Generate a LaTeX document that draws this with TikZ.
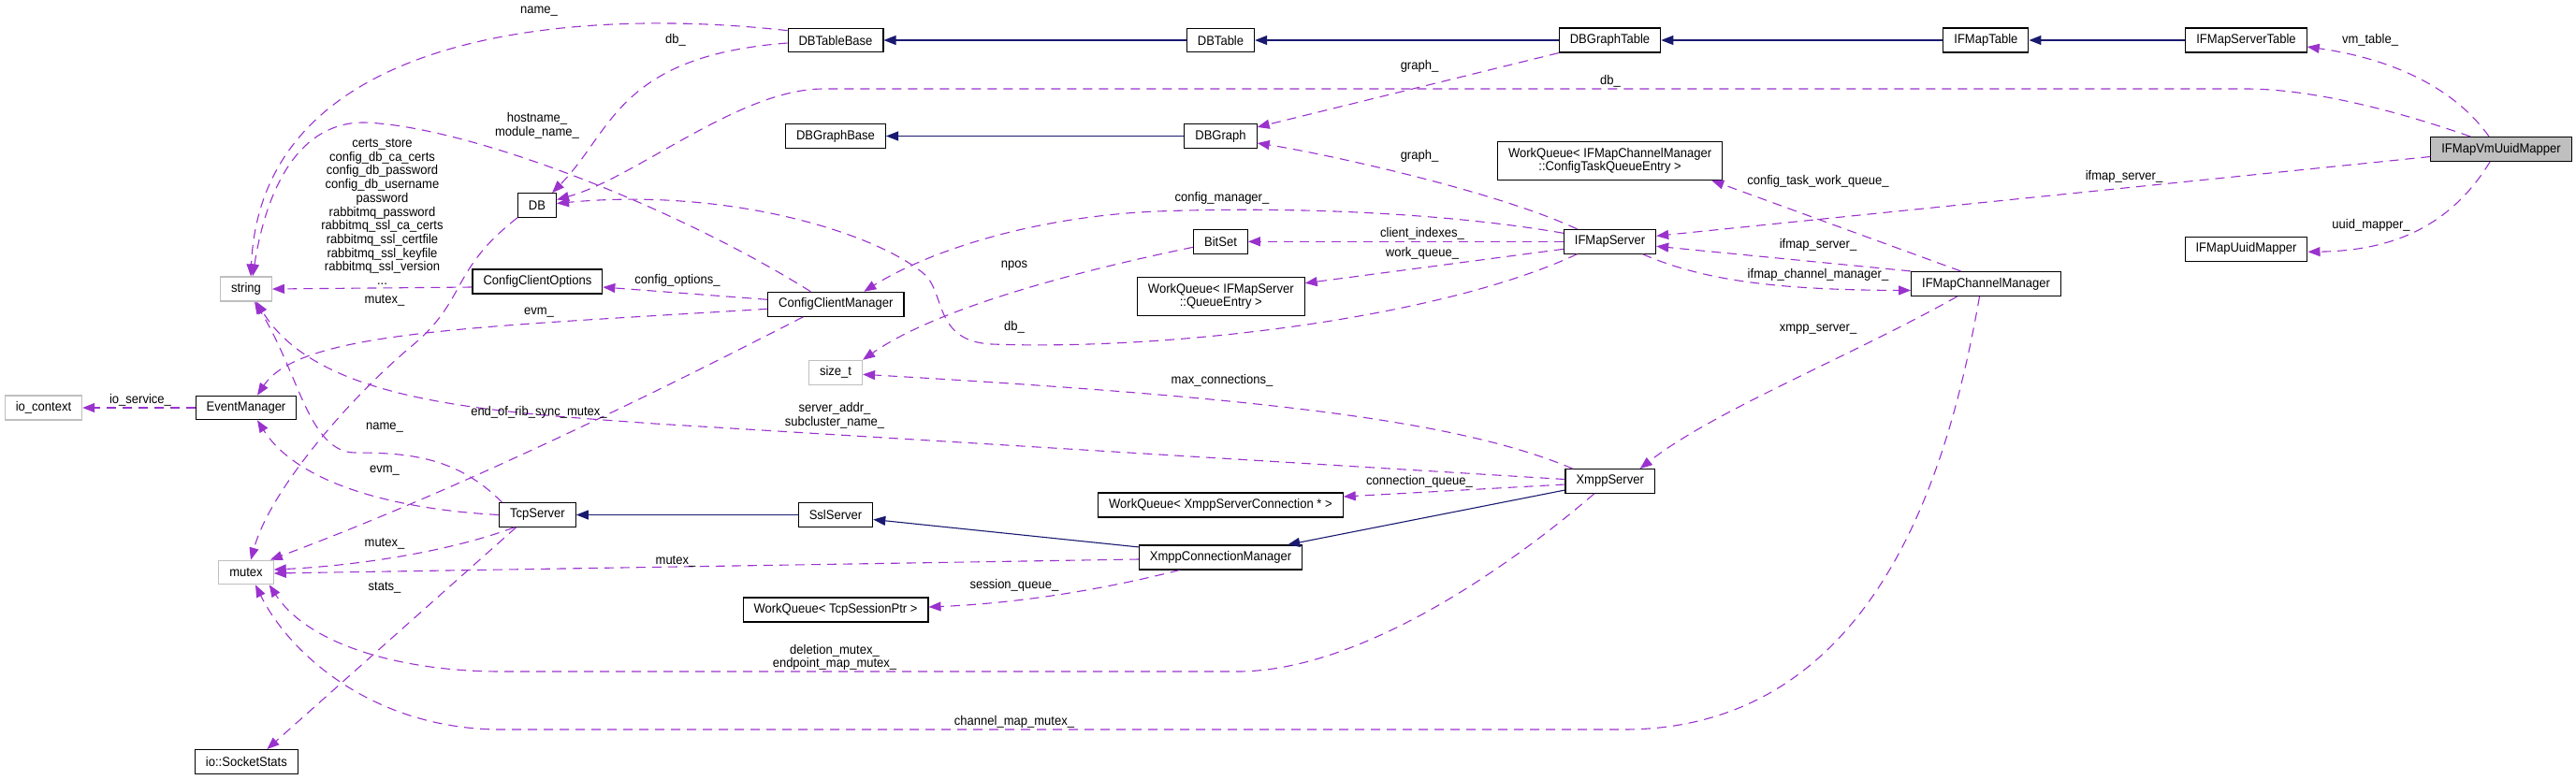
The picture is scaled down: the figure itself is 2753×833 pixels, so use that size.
\documentclass[tikz,border=0pt]{standalone}
\usepackage{fontspec}
\setmainfont{Liberation Sans}[FakeStretch=0.93]
\usepackage{xcolor}
\usepackage{tikz}
\usetikzlibrary{arrows.meta}
\definecolor{usecol}{HTML}{9A32CD}
\definecolor{basecol}{HTML}{191970}
\definecolor{boxgray}{HTML}{BFBFBF}

\begin{document}
\begin{tikzpicture}[x=1pt,y=-1pt,font=\fontsize{14}{14.7}\selectfont,
    cls/.style={draw=black,line width=1.1pt,fill=white,inner xsep=11.5pt,inner ysep=6.5pt,minimum height=25.6pt,align=center},
    extcls/.style={cls,draw=boxgray},
    maincls/.style={cls,fill=boxgray},
    uses/.style={draw=usecol,line width=1.1pt,dash pattern=on 10pt off 7pt,-{Triangle[length=13pt,width=10pt]}},
    inherits/.style={draw=basecol,line width=1.1pt,-{Triangle[length=13pt,width=10pt]}},
    lbl/.style={inner sep=0pt,align=center}]
                \useasboundingbox (0,0) rectangle (2753,833);
                \node[maincls] (vmmapper) at (2673,159.5) {IFMapVmUuidMapper};
                \node[cls] (servertable) at (2400.5,43) {IFMapServerTable};
                \node[cls] (uuidmapper) at (2400.5,266.3) {IFMapUuidMapper};
                \node[cls] (ifmaptable) at (2122.4,43) {IFMapTable};
                \node[cls] (graphtable) at (1720.5,43) {DBGraphTable};
                \node[cls] (dbtable) at (1304.5,43) {DBTable};
                \node[cls] (tablebase) at (893,43) {DBTableBase};
                \node[cls] (dbgraph) at (1304.5,145.5) {DBGraph};
                \node[cls] (graphbase) at (893,145.5) {DBGraphBase};
                \node[cls] (cfgqueue) at (1720.6,172) {WorkQueue< IFMapChannelManager\\::ConfigTaskQueueEntry >};
                \node[cls] (ifmapserver) at (1720.5,258.3) {IFMapServer};
                \node[cls] (chanmgr) at (2122.5,303.5) {IFMapChannelManager};
                \node[cls] (bitset) at (1304.5,258.3) {BitSet};
                \node[cls] (srvqueue) at (1304.8,316.8) {WorkQueue< IFMapServer\\::QueueEntry >};
                \node[cls] (cfgmgr) at (893.3,325.3) {ConfigClientManager};
                \node[extcls] (sizet) at (893,398.3) {size\_t};
                \node[cls] (db) at (574,219.5) {DB};
                \node[cls] (cfgopts) at (574.4,301) {ConfigClientOptions};
                \node[extcls] (string) at (263,309) {string};
                \node[cls] (evmgr) at (263,436) {EventManager};
                \node[extcls] (iocontext) at (46.5,436) {io\_context};
                \node[cls] (tcpserver) at (574.5,550.5) {TcpServer};
                \node[extcls] (mutex) at (263,612) {mutex};
                \node[cls] (sockstats) at (263.4,814.4) {io::SocketStats};
                \node[cls] (sslserver) at (893,550.5) {SslServer};
                \node[cls] (connqueue) at (1304.4,540) {WorkQueue< XmppServerConnection * >};
                \node[cls] (connmgr) at (1304.5,596) {XmppConnectionManager};
                \node[cls] (sessqueue) at (893,652) {WorkQueue< TcpSessionPtr >};
                \node[cls] (xmppserver) at (1720.7,514.5) {XmppServer};
                \draw[inherits] (dbtable.west) -- (tablebase.east);
                \draw[inherits] (graphtable.west) -- (dbtable.east);
                \draw[inherits] (ifmaptable.west) -- (graphtable.east);
                \draw[inherits] (servertable.west) -- (ifmaptable.east);
                \draw[inherits] (dbgraph.west) -- (graphbase.east);
                \draw[inherits] (sslserver.west) -- (tcpserver.east);
                \draw[inherits] ([yshift=-2.5pt]connmgr.north west) -- ([yshift=-5pt]sslserver.east);
                \draw[inherits] ([yshift=-9.5pt]xmppserver.west) -- ([xshift=-16pt]connmgr.north east);
                \draw[uses] ([yshift=-3pt]tablebase.north west) .. controls (620,8) and (280,30) .. ([xshift=5pt]string.north);
                \draw[uses] ([yshift=-3pt]tablebase.west) .. controls (660,60) and (655,140) .. ([xshift=-5pt]db.north east);
                \draw[uses] (graphtable.south west) -- ([yshift=-4pt]dbgraph.north east);
                \draw[uses] ([xshift=-33pt]vmmapper.north) .. controls (2560,118) and (2470,95) .. (2400,95) -- (880,95)
                .. controls (790,95) and (680,190) .. ([yshift=6pt]db.east);
                \draw[uses] ([xshift=-35pt]ifmapserver.north) .. controls (1600,205) and (1420,165) .. ([yshift=-7.5pt]dbgraph.east);
                \draw[uses] ([xshift=-35pt]ifmapserver.south) .. controls (1540,340) and (1250,375) .. (1060,368)
                .. controls (1000,365) and (1010,318) .. (990,295) .. controls (940,250) and (780,200) .. ([yshift=2pt]db.east);
                \draw[uses] ([yshift=9pt]ifmapserver.west) .. controls (1560,230) and (1400,220) .. (1236,226)
                .. controls (1100,232) and (990,270) .. ([xshift=30pt]cfgmgr.north);
                \draw[uses] (ifmapserver.west) -- (bitset.east);
                \draw[uses] ([yshift=-8pt]ifmapserver.west) -- ([yshift=14pt]srvqueue.east);
                \draw[uses] ([xshift=35pt]ifmapserver.south) .. controls (1820,300) and (1900,310) .. ([yshift=-7pt]chanmgr.west);
                \draw[uses] (chanmgr.north west) -- ([yshift=-5pt]ifmapserver.east);
                \draw[uses] ([yshift=-8pt]vmmapper.west) -- ([yshift=6pt]ifmapserver.east);
                \draw[uses] ([xshift=-27pt]chanmgr.north) -- ([xshift=-12pt]cfgqueue.south east);
                \draw[uses] ([xshift=-31pt]chanmgr.south) .. controls (1980,380) and (1830,440) .. ([xshift=32pt]xmppserver.north);
                \draw[uses] ([xshift=-7pt]chanmgr.south) .. controls (2085,490) and (2010,780) .. (1735,780) -- (536,780)
                .. controls (400,780) and (310,700) .. ([xshift=10pt]mutex.south);
                \draw[uses] ([xshift=-13pt]vmmapper.north) .. controls (2620,90) and (2550,62) .. ([yshift=-7pt]servertable.east);
                \draw[uses] ([xshift=-12pt]vmmapper.south) .. controls (2620,240) and (2560,268) .. ([yshift=-3pt]uuidmapper.east);
                \draw[uses] ([yshift=-6pt]bitset.west) .. controls (1150,290) and (1000,330) .. (sizet.north east);
                \draw[uses] ([xshift=-40pt]xmppserver.north) .. controls (1560,450) and (1350,425) .. ([yshift=-2pt]sizet.east);
                \draw[uses] ([yshift=2pt]xmppserver.west) -- (700,453) .. controls (520,440) and (340,430) .. ([xshift=11pt]string.south);
                \draw[uses] ([xshift=-38pt]tcpserver.north) .. controls (490,490) and (440,484) .. (380,484)
                .. controls (330,484) and (320,400) .. ([xshift=9pt]string.south);
                \draw[uses] (tcpserver.west) .. controls (430,545) and (320,520) .. ([xshift=12pt]evmgr.south);
                \draw[uses] ([xshift=-25pt]tcpserver.south) .. controls (480,590) and (380,605) .. ([yshift=3pt]mutex.east);
                \draw[uses] ([yshift=-2pt]connmgr.west) -- ([yshift=-1pt]mutex.east);
                \draw[uses] ([xshift=-17pt]xmppserver.south) .. controls (1620,600) and (1460,716) .. (1325,718) -- (536,718)
                .. controls (430,718) and (330,690) .. ([xshift=-5pt]mutex.south east);
                \draw[uses] ([xshift=-35pt]cfgmgr.south) .. controls (720,410) and (500,520) .. ([xshift=-4pt]mutex.north east);
                \draw[uses] (db.south west) .. controls (480,290) and (500,320) .. (440,370)
                .. controls (380,420) and (290,520) .. ([xshift=5pt]mutex.north);
                \draw[uses] ([yshift=-5pt]cfgmgr.west) .. controls (500,350) and (320,355) .. ([xshift=12pt]evmgr.north);
                \draw[uses] ([yshift=5pt]cfgmgr.west) -- ([yshift=-6pt]cfgopts.east);
                \draw[uses] ([yshift=-6pt]cfgopts.west) -- (string.east);
                \draw[uses] ([xshift=-27pt]cfgmgr.north) .. controls (720,220) and (500,135) .. (390,131)
                .. controls (320,130) and (285,200) .. ([xshift=7pt]string.north);
                \draw[uses] (evmgr.west) -- (iocontext.east);
                \draw[uses] ([xshift=-23pt]tcpserver.south) -- ([xshift=22pt]sockstats.north);
                \draw[uses] ([xshift=-44pt]connmgr.south) .. controls (1180,630) and (1090,645) .. ([yshift=3pt]sessqueue.east);
                \draw[uses] ([yshift=-3.5pt]xmppserver.west) -- ([yshift=9pt]connqueue.east);
                \foreach \px/\py/\txt [count=\i] in {576/12/name\_, 722/43/db\_, 1517/71/graph\_, 1721/87/db\_,
                2533/43/vm\_table\_, 574/134/{hostname\_\\module\_name\_},
                408.5/226.5/{certs\_store\\config\_db\_ca\_certs\\config\_db\_password\\config\_db\_username\\password\\rabbitmq\_password\\rabbitmq\_ssl\_ca\_certs\\rabbitmq\_ssl\_certfile\\rabbitmq\_ssl\_keyfile\\rabbitmq\_ssl\_version\\...},
                1517/167/graph\_, 2270/189/ifmap\_server\_, 1943/194/config\_task\_work\_queue\_,
                1306/212/config\_manager\_, 2534/241/uuid\_mapper\_, 1520/250/client\_indexes\_,
                1943/262/ifmap\_server\_, 1520/271/work\_queue\_, 1084/284/npos,
                1943/294/ifmap\_channel\_manager\_, 724/300/config\_options\_, 411/321/mutex\_,
                576/334/evm\_, 1084/350/db\_, 1943/352/xmpp\_server\_, 1306/407/max\_connections\_,
                150/428/io\_service\_, 576/441/end\_of\_rib\_sync\_mutex\_,
                892/444.5/{server\_addr\_\\subcluster\_name\_}, 411/457/name\_, 411/503/evm\_,
                1517/515/connection\_queue\_, 411/581/mutex\_, 722/600/mutex\_, 1084/626/session\_queue\_,
                411/628/stats\_, 892/703/{deletion\_mutex\_\\endpoint\_map\_mutex\_}, 1084/772/channel\_map\_mutex\_}
                \node[lbl] (lbl\i) at (\px,\py) {\txt};
            \end{tikzpicture}
\end{document}
